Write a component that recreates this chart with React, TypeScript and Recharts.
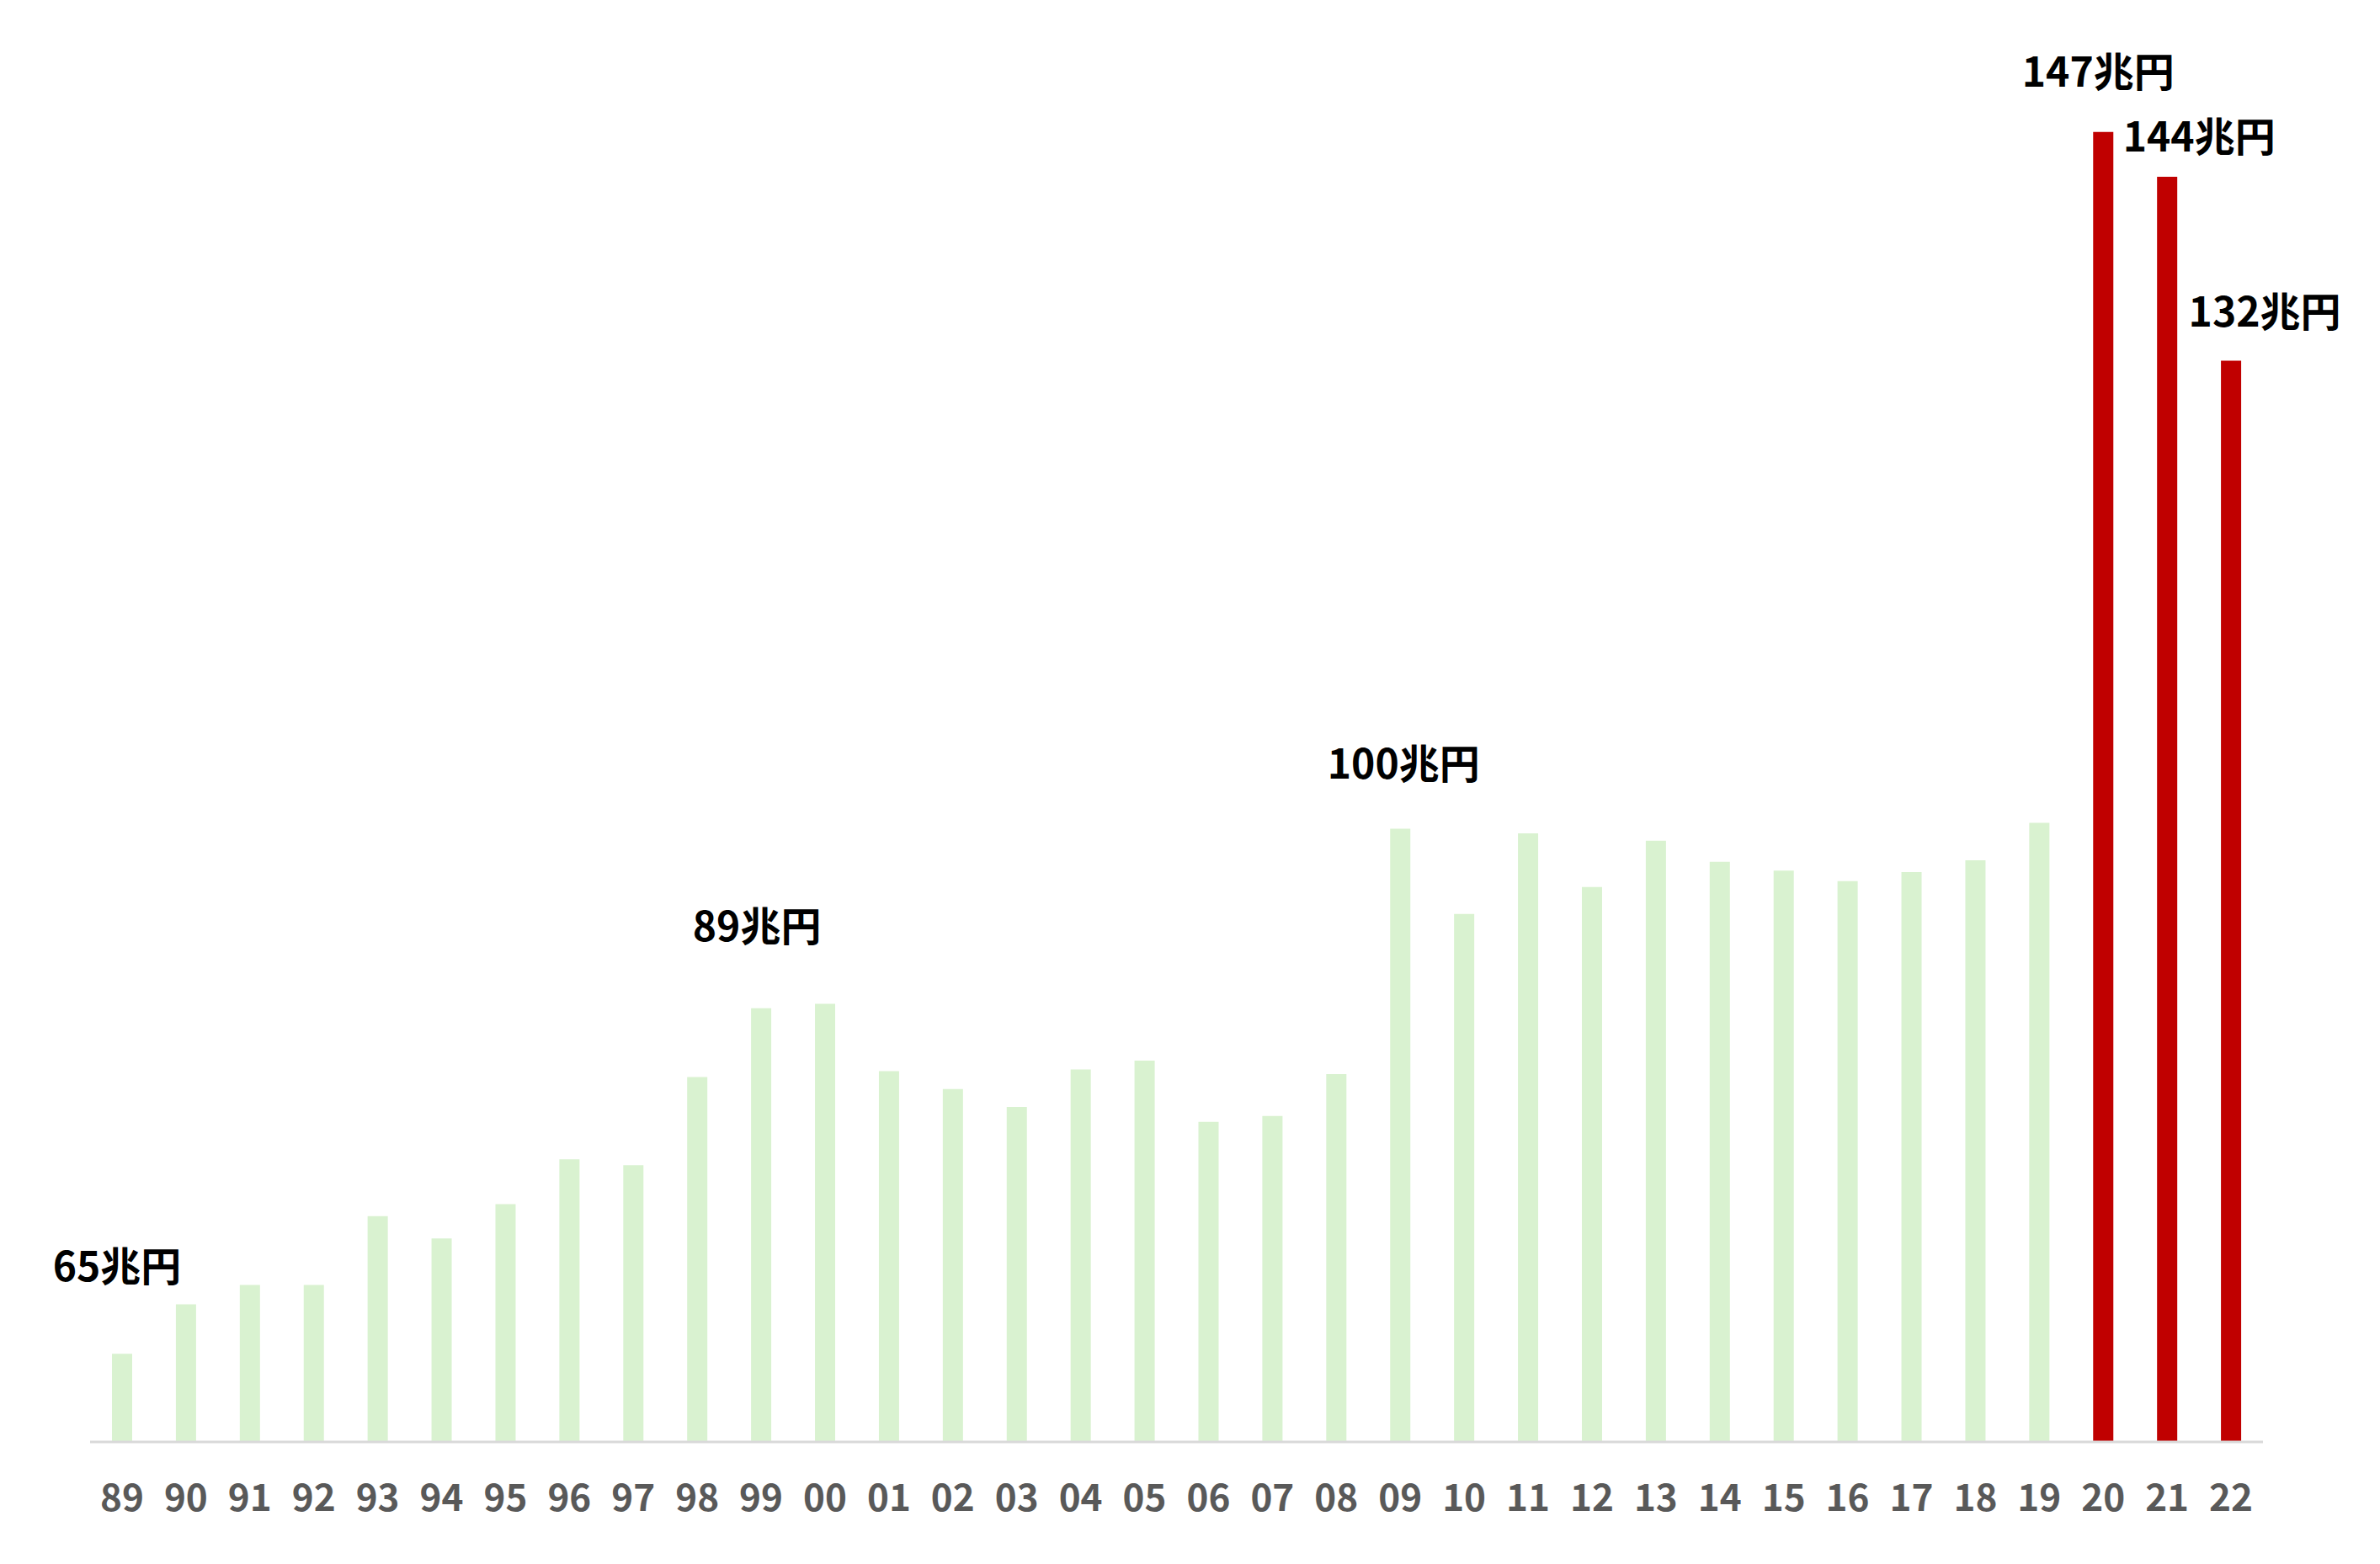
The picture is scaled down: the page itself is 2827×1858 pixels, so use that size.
import { Bar, BarChart, Cell, LabelList, XAxis, YAxis } from "recharts";

const YEARS = [
  "89", "90", "91", "92", "93", "94", "95", "96", "97", "98", "99",
  "00", "01", "02", "03", "04", "05", "06", "07", "08", "09",
  "10", "11", "12", "13", "14", "15", "16", "17", "18", "19",
  "20", "21", "22",
];

// 一般会計歳出（兆円）
const SPENDING = [
  65.9, 69.2, 70.5, 70.5, 75.1, 73.6, 75.9, 78.9, 78.5, 84.4, 89.0,
  89.3, 84.8, 83.6, 82.4, 84.9, 85.5, 81.4, 81.8, 84.6, 101.0,
  95.3, 100.7, 97.1, 100.2, 98.8, 98.2, 97.5, 98.1, 98.9, 101.4,
  147.6, 144.6, 132.3,
];

const HIGHLIGHT_YEARS = ["20", "21", "22"];

const CALLOUT_YEARS = ["89", "99", "09", "20", "21", "22"];
const CALLOUT_TEXT = ["65兆円", "89兆円", "100兆円", "147兆円", "144兆円", "132兆円"];

// ラベルの位置調整 [横ずれ, バー上端からの距離]
const CALLOUT_OFFSET: Record<string, [number, number]> = {
  "89": [-6, 86],
  "99": [-5, 80],
  "09": [4, 60],
  "20": [-6, 54],
  "21": [38, 30],
  "22": [40, 40],
};

const GREEN = "#d9f2d0";
const RED = "#c00000";
const AXIS = "#d9d9d9";
const TICK = "#595959";
const FONT = "'Noto Sans CJK JP', 'Noto Sans', sans-serif";

const rows = YEARS.map((year, i) => ({ year, value: SPENDING[i] }));

function Callout(props: any) {
  const { x, y, width, index } = props;
  const year = YEARS[index];
  const k = CALLOUT_YEARS.indexOf(year);
  if (k < 0) return null;
  const [dx, gap] = CALLOUT_OFFSET[year];
  return (
    <text
      x={x + width / 2 + dx}
      y={y - gap}
      textAnchor="middle"
      fontFamily={FONT}
      fontWeight={700}
      fontSize={48}
      fill="#000"
    >
      {CALLOUT_TEXT[k]}
    </text>
  );
}

export default function App() {
  return (
    <div style={{ position: "absolute", left: 0, top: 0, background: "#fff" }}>
      <BarChart
        width={2827}
        height={1858}
        data={rows}
        margin={{ top: 114, right: 139, left: 107, bottom: 45 }}
      >
        <XAxis
          dataKey="year"
          interval={0}
          height={100}
          tickLine={false}
          tickMargin={45}
          axisLine={{ stroke: AXIS, strokeWidth: 3 }}
          tick={{ fontSize: 44, fontWeight: 700, fill: TICK, fontFamily: FONT }}
        />
        <YAxis hide domain={[60, 150]} allowDataOverflow />
        <Bar dataKey="value" barSize={24} isAnimationActive={false}>
          {rows.map((r) => (
            <Cell key={r.year} fill={HIGHLIGHT_YEARS.includes(r.year) ? RED : GREEN} />
          ))}
          <LabelList dataKey="value" content={<Callout />} />
        </Bar>
      </BarChart>
    </div>
  );
}
